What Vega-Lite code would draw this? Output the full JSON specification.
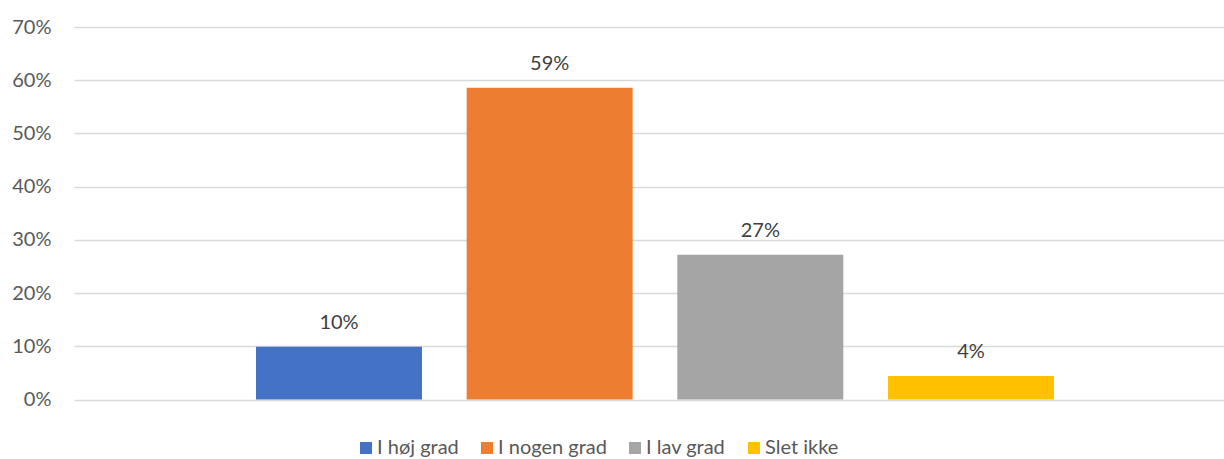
{
  "$schema": "https://vega.github.io/schema/vega-lite/v6.json",
  "autosize": "none",
  "width": 1150,
  "height": 372.5,
  "padding": {"left": 74, "top": 27, "right": 0, "bottom": 59.5},
  "background": "white",
  "config": {
    "font": "Lato",
    "view": {"stroke": null}
  },
  "data": {
    "values": [
      {"svar": "I høj grad", "andel": 0.099},
      {"svar": "I nogen grad", "andel": 0.586},
      {"svar": "I lav grad", "andel": 0.272},
      {"svar": "Slet ikke", "andel": 0.044}
    ]
  },
  "encoding": {
    "x": {
      "field": "svar",
      "type": "nominal",
      "sort": null,
      "scale": {"paddingInner": 0.212, "paddingOuter": 0.8355, "align": 0.517},
      "axis": null
    },
    "y": {
      "field": "andel",
      "type": "quantitative",
      "scale": {"domain": [0, 0.7], "nice": false, "zero": true},
      "axis": {
        "title": null,
        "format": ".0%",
        "values": [0, 0.1, 0.2, 0.3, 0.4, 0.5, 0.6, 0.7],
        "domain": false,
        "ticks": false,
        "labelPadding": 23,
        "labelFontSize": 20,
        "labelColor": "#595959",
        "labelFont": "Lato",
        "gridColor": "#D9D9D9",
        "gridWidth": 1.3
      }
    }
  },
  "layer": [
    {
      "mark": {"type": "bar"},
      "encoding": {
        "color": {
          "field": "svar",
          "type": "nominal",
          "scale": {
            "domain": ["I høj grad", "I nogen grad", "I lav grad", "Slet ikke"],
            "range": ["#4472C4", "#ED7D31", "#A5A5A5", "#FFC000"]
          },
          "legend": {
            "title": null,
            "orient": "none",
            "direction": "horizontal",
            "legendX": 282,
            "legendY": 411,
            "padding": 0,
            "symbolType": "square",
            "symbolSize": 144,
            "symbolStrokeWidth": 0,
            "labelFontSize": 20,
            "labelFont": "Lato",
            "labelColor": "#595959",
            "labelOffset": 1,
            "columnPadding": 18
          }
        }
      }
    },
    {
      "mark": {"type": "text", "baseline": "alphabetic", "dy": -18, "fontSize": 20, "color": "#404040", "font": "Lato"},
      "encoding": {
        "text": {"field": "andel", "type": "quantitative", "format": ".0%"}
      }
    }
  ]
}
